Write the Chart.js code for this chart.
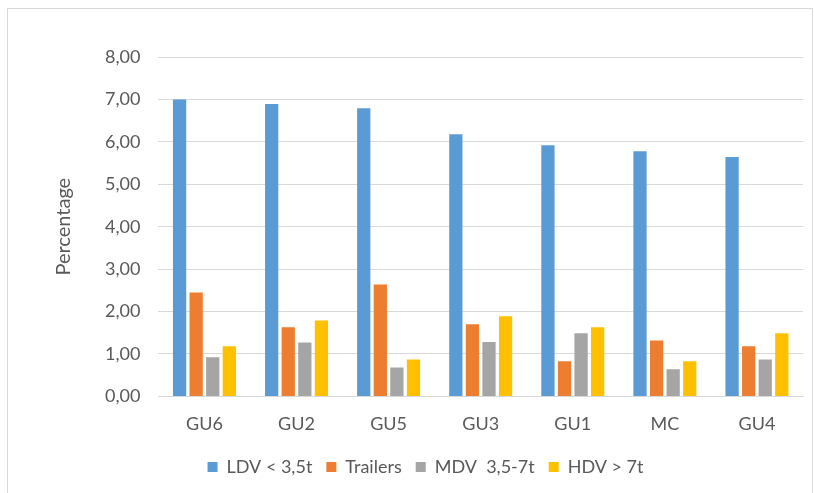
<!DOCTYPE html>
<html>
<head>
<meta charset="utf-8">
<script src="https://cdn.jsdelivr.net/npm/chart.js@4"></script>
<style>
  html, body { margin: 0; padding: 0; background: #fff; }
  #wrap { position: relative; width: 814px; height: 493px; }
</style>
</head>
<body>
<div id="wrap"><canvas id="vehicleChart"></canvas></div>
<script>
// Data
const categories = ['GU6', 'GU2', 'GU5', 'GU3', 'GU1', 'MC', 'GU4'];
const ldv = [7.00, 6.89, 6.79, 6.18, 5.92, 5.78, 5.64];
const trailers = [2.45, 1.63, 2.64, 1.70, 0.83, 1.32, 1.18];
const mdv = [0.92, 1.27, 0.68, 1.28, 1.49, 0.64, 0.87];
const hdv = [1.18, 1.79, 0.87, 1.89, 1.63, 0.83, 1.49];

const seriesNames = ['LDV < 3,5t', 'Trailers', 'MDV  3,5-7t', 'HDV > 7t'];
const seriesColors = ['#5B9BD5', '#ED7D31', '#A5A5A5', '#FFC000'];

// Light frame around the chart
const framePlugin = {
    id: 'frame',
    beforeDraw(chart) {
        const ctx = chart.ctx;
        ctx.save();
        ctx.strokeStyle = '#d9d9d9';
        ctx.lineWidth = 1;
        ctx.strokeRect(7.5, 8.5, 805, 490);
        ctx.restore();
    }
};

const fontFamily = 'Lato, "Liberation Sans", sans-serif';

new Chart(document.getElementById('vehicleChart'), {
    type: 'bar',
    data: {
        labels: categories,
        datasets: [ldv, trailers, mdv, hdv].map((values, i) => ({
            label: seriesNames[i],
            data: values,
            backgroundColor: seriesColors[i],
            categoryPercentage: 0.72,
            barPercentage: 0.8
        }))
    },
    options: {
        responsive: true,
        maintainAspectRatio: false,
        animation: false,
        layout: { padding: { top: 57, right: 11, left: 48, bottom: 7 } },
        plugins: {
            legend: {
                position: 'bottom',
                labels: {
                    boxWidth: 10,
                    boxHeight: 10,
                    padding: 14,
                    color: '#595959',
                    font: { family: fontFamily, size: 18 }
                }
            },
            tooltip: { enabled: false }
        },
        scales: {
            x: {
                grid: { display: false },
                border: { display: true, color: '#d9d9d9' },
                ticks: { color: '#595959', font: { family: fontFamily, size: 18 }, padding: 9 }
            },
            y: {
                min: 0,
                max: 8,
                ticks: {
                    stepSize: 1,
                    color: '#595959',
                    padding: 18,
                    font: { family: fontFamily, size: 18 },
                    callback: (v) => v.toFixed(2).replace('.', ',')
                },
                grid: { color: '#d9d9d9', drawTicks: false },
                border: { display: false },
                title: {
                    display: true,
                    text: 'Percentage',
                    color: '#595959',
                    padding: { top: 4, bottom: 11 },
                    font: { family: fontFamily, size: 20 }
                }
            }
        }
    },
    plugins: [framePlugin]
});
</script>
</body>
</html>
